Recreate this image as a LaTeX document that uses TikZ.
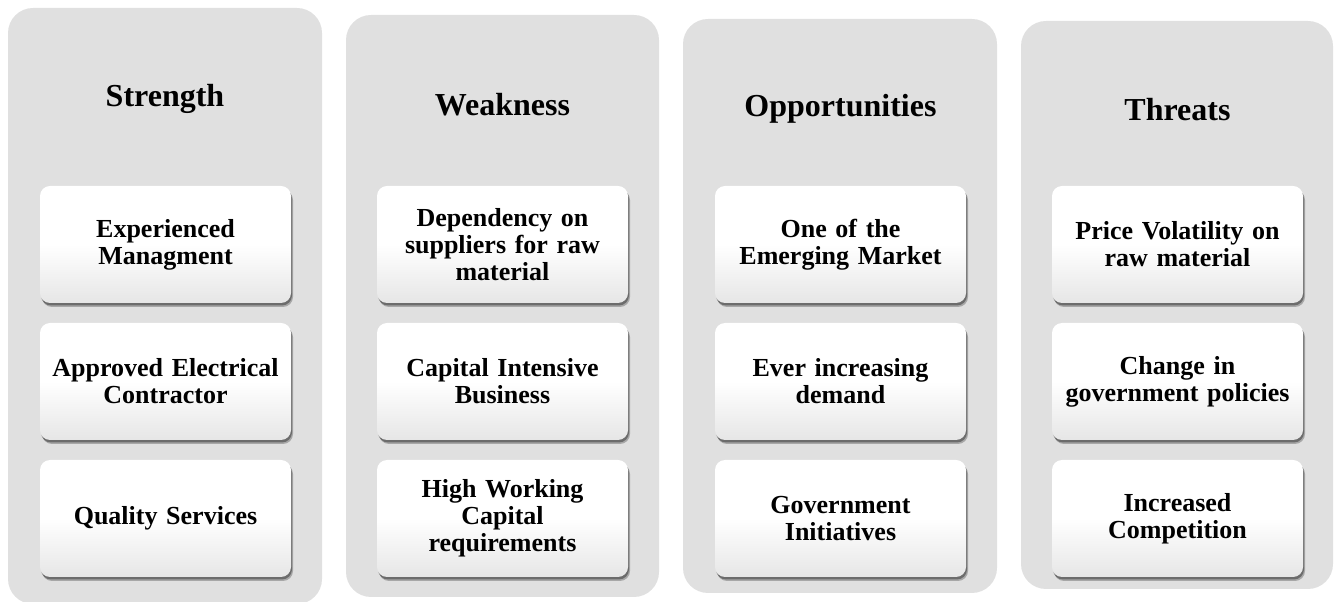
\documentclass[tikz,border=0pt]{standalone}
\usepackage{fontspec}
\setmainfont{Liberation Serif}
\usetikzlibrary{shadows}
\definecolor{panelgray}{HTML}{E0E0E0}
\definecolor{boxbottom}{HTML}{E6E6E6}
\tikzset{
  panel/.style={fill=panelgray, draw=none, rounded corners=25pt},
  head/.style={font=\bfseries\fontsize{32}{34}\selectfont, inner sep=0pt},
  item/.style={rectangle, rounded corners=10pt, draw=none,
    top color=white, bottom color=boxbottom, middle color=white,
    minimum width=251pt, minimum height=117pt, text width=240pt, align=center,
    font=\bfseries\fontsize{26}{27}\selectfont,
    drop shadow={shadow xshift=2pt, shadow yshift=-4pt, opacity=0.25, fill=black},
    drop shadow={shadow xshift=1pt, shadow yshift=-2.5pt, opacity=0.35, fill=black}}
}
\begin{document}
\begin{tikzpicture}[x=1pt,y=1pt]
\useasboundingbox (0,0) rectangle (1338,602);
% panels
\fill[panel] (8,-2) rectangle (322,594);
\fill[panel] (346,5) rectangle (659,587);
\fill[panel] (683,9) rectangle (997,583);
\fill[panel] (1021,13) rectangle (1333,581);
% headings
\node[head] (strength) at (165,503) {Strength};
\node[head] (weakness) at (502.5,497) {Weakness};
\node[head] (opportunities) at (840.5,493) {Opportunities};
\node[head] (threats) at (1177.5,492) {Threats};
% strength
\node[item] (s1) at (165.5,357.5) {Experienced\\Managment};
\node[item] (s2) at (165.5,220.5) {Approved Electrical\\Contractor};
\node[item] (s3) at (165.5,83.5) {Quality Services};
% weakness
\node[item] (w1) at (502.5,357.5) {Dependency on\\suppliers for raw\\material};
\node[item] (w2) at (502.5,220.5) {Capital Intensive\\Business};
\node[item] (w3) at (502.5,83.5) {High Working\\Capital\\requirements};
% opportunities
\node[item] (o1) at (840.5,357.5) {One of the\\Emerging Market};
\node[item] (o2) at (840.5,220.5) {Ever increasing\\demand};
\node[item] (o3) at (840.5,83.5) {Government\\Initiatives};
% threats
\node[item] (t1) at (1177.5,357.5) {Price Volatility on\\raw material};
\node[item] (t2) at (1177.5,220.5) {Change in\\government policies};
\node[item] (t3) at (1177.5,83.5) {Increased\\Competition};
\end{tikzpicture}
\end{document}
